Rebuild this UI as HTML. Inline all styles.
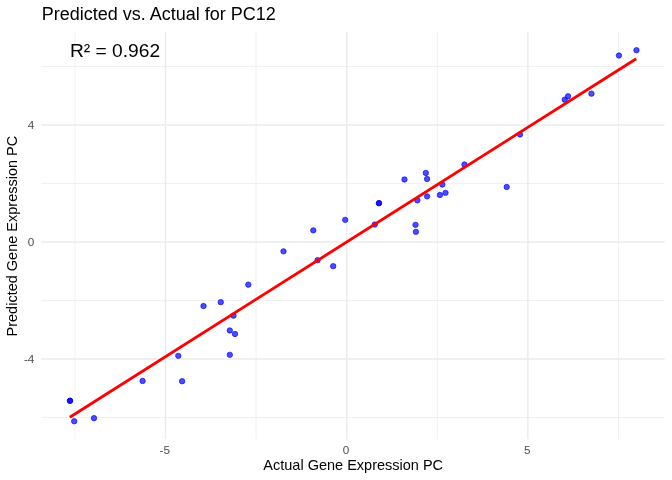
<!DOCTYPE html><html><head><meta charset="utf-8"><style>html,body{margin:0;padding:0;background:#fff;width:672px;height:480px;overflow:hidden}svg{display:block;will-change:transform;font-family:"Liberation Sans",sans-serif}</style></head><body>
<svg width="672" height="480" viewBox="0 0 672 480">
<rect width="672" height="480" fill="#fff"/>
<path d="M74.90 31.5V439.2M256.10 31.5V439.2M437.30 31.5V439.2M618.50 31.5V439.2M41.4 417.50H664.67M41.4 300.50H664.67M41.4 183.50H664.67M41.4 66.50H664.67" stroke="#EBEBEB" stroke-width="0.71" fill="none"/>
<path d="M165.50 31.5V439.2M346.70 31.5V439.2M527.90 31.5V439.2M41.4 359.00H664.67M41.4 242.00H664.67M41.4 125.00H664.67" stroke="#EBEBEB" stroke-width="1.42" fill="none"/>
<g fill="#0000FF" fill-opacity="0.7" stroke="#0000FF" stroke-opacity="0.7" stroke-width="0.945">
<circle cx="70.00" cy="400.75" r="2.7"/>
<circle cx="70.00" cy="400.75" r="2.7"/>
<circle cx="74.20" cy="421.25" r="2.7"/>
<circle cx="94.00" cy="418.15" r="2.7"/>
<circle cx="142.60" cy="380.95" r="2.7"/>
<circle cx="178.30" cy="355.85" r="2.7"/>
<circle cx="182.10" cy="381.25" r="2.7"/>
<circle cx="203.50" cy="306.05" r="2.7"/>
<circle cx="220.80" cy="302.15" r="2.7"/>
<circle cx="229.80" cy="330.45" r="2.7"/>
<circle cx="229.80" cy="354.85" r="2.7"/>
<circle cx="233.50" cy="315.65" r="2.7"/>
<circle cx="235.00" cy="334.00" r="2.7"/>
<circle cx="248.30" cy="284.65" r="2.7"/>
<circle cx="283.50" cy="251.35" r="2.7"/>
<circle cx="313.30" cy="230.35" r="2.7"/>
<circle cx="317.60" cy="260.15" r="2.7"/>
<circle cx="333.20" cy="266.15" r="2.7"/>
<circle cx="345.20" cy="219.85" r="2.7"/>
<circle cx="374.80" cy="224.55" r="2.7"/>
<circle cx="378.95" cy="203.15" r="2.7"/>
<circle cx="378.95" cy="203.15" r="2.7"/>
<circle cx="404.45" cy="179.50" r="2.7"/>
<circle cx="415.50" cy="224.85" r="2.7"/>
<circle cx="415.90" cy="231.85" r="2.7"/>
<circle cx="417.40" cy="200.35" r="2.7"/>
<circle cx="425.80" cy="172.95" r="2.7"/>
<circle cx="427.10" cy="178.95" r="2.7"/>
<circle cx="427.10" cy="196.35" r="2.7"/>
<circle cx="439.90" cy="195.05" r="2.7"/>
<circle cx="442.30" cy="184.55" r="2.7"/>
<circle cx="445.50" cy="192.85" r="2.7"/>
<circle cx="464.45" cy="164.50" r="2.7"/>
<circle cx="506.70" cy="186.95" r="2.7"/>
<circle cx="520.00" cy="134.45" r="2.7"/>
<circle cx="564.75" cy="99.65" r="2.7"/>
<circle cx="568.06" cy="96.32" r="2.7"/>
<circle cx="591.45" cy="93.65" r="2.7"/>
<circle cx="618.95" cy="55.50" r="2.7"/>
<circle cx="636.45" cy="50.25" r="2.7"/>
</g>
<path d="M69.8 417.3L636.25 58.7" stroke="#FF0000" stroke-width="2.845" fill="none" stroke-linecap="butt"/>
<text x="41.7" y="19.7" font-size="18" fill="#000">Predicted vs. Actual for PC12</text>
<text x="70.0" y="56.8" font-size="19.2" fill="#000">R² = 0.962</text>
<text x="353.2" y="469.85" font-size="14.5" text-anchor="middle" fill="#000">Actual Gene Expression PC</text>
<text transform="translate(16.6 236.1) rotate(-90)" x="0" y="0" font-size="14.5" text-anchor="middle" fill="#000">Predicted Gene Expression PC</text>
<text x="34.3" y="363.10" font-size="11.73" text-anchor="end" fill="#4D4D4D">-4</text>
<text x="34.3" y="246.10" font-size="11.73" text-anchor="end" fill="#4D4D4D">0</text>
<text x="34.3" y="129.10" font-size="11.73" text-anchor="end" fill="#4D4D4D">4</text>
<text x="164.80" y="454.0" font-size="11.73" text-anchor="middle" fill="#4D4D4D">-5</text>
<text x="346.00" y="454.0" font-size="11.73" text-anchor="middle" fill="#4D4D4D">0</text>
<text x="527.20" y="454.0" font-size="11.73" text-anchor="middle" fill="#4D4D4D">5</text>
</svg></body></html>
